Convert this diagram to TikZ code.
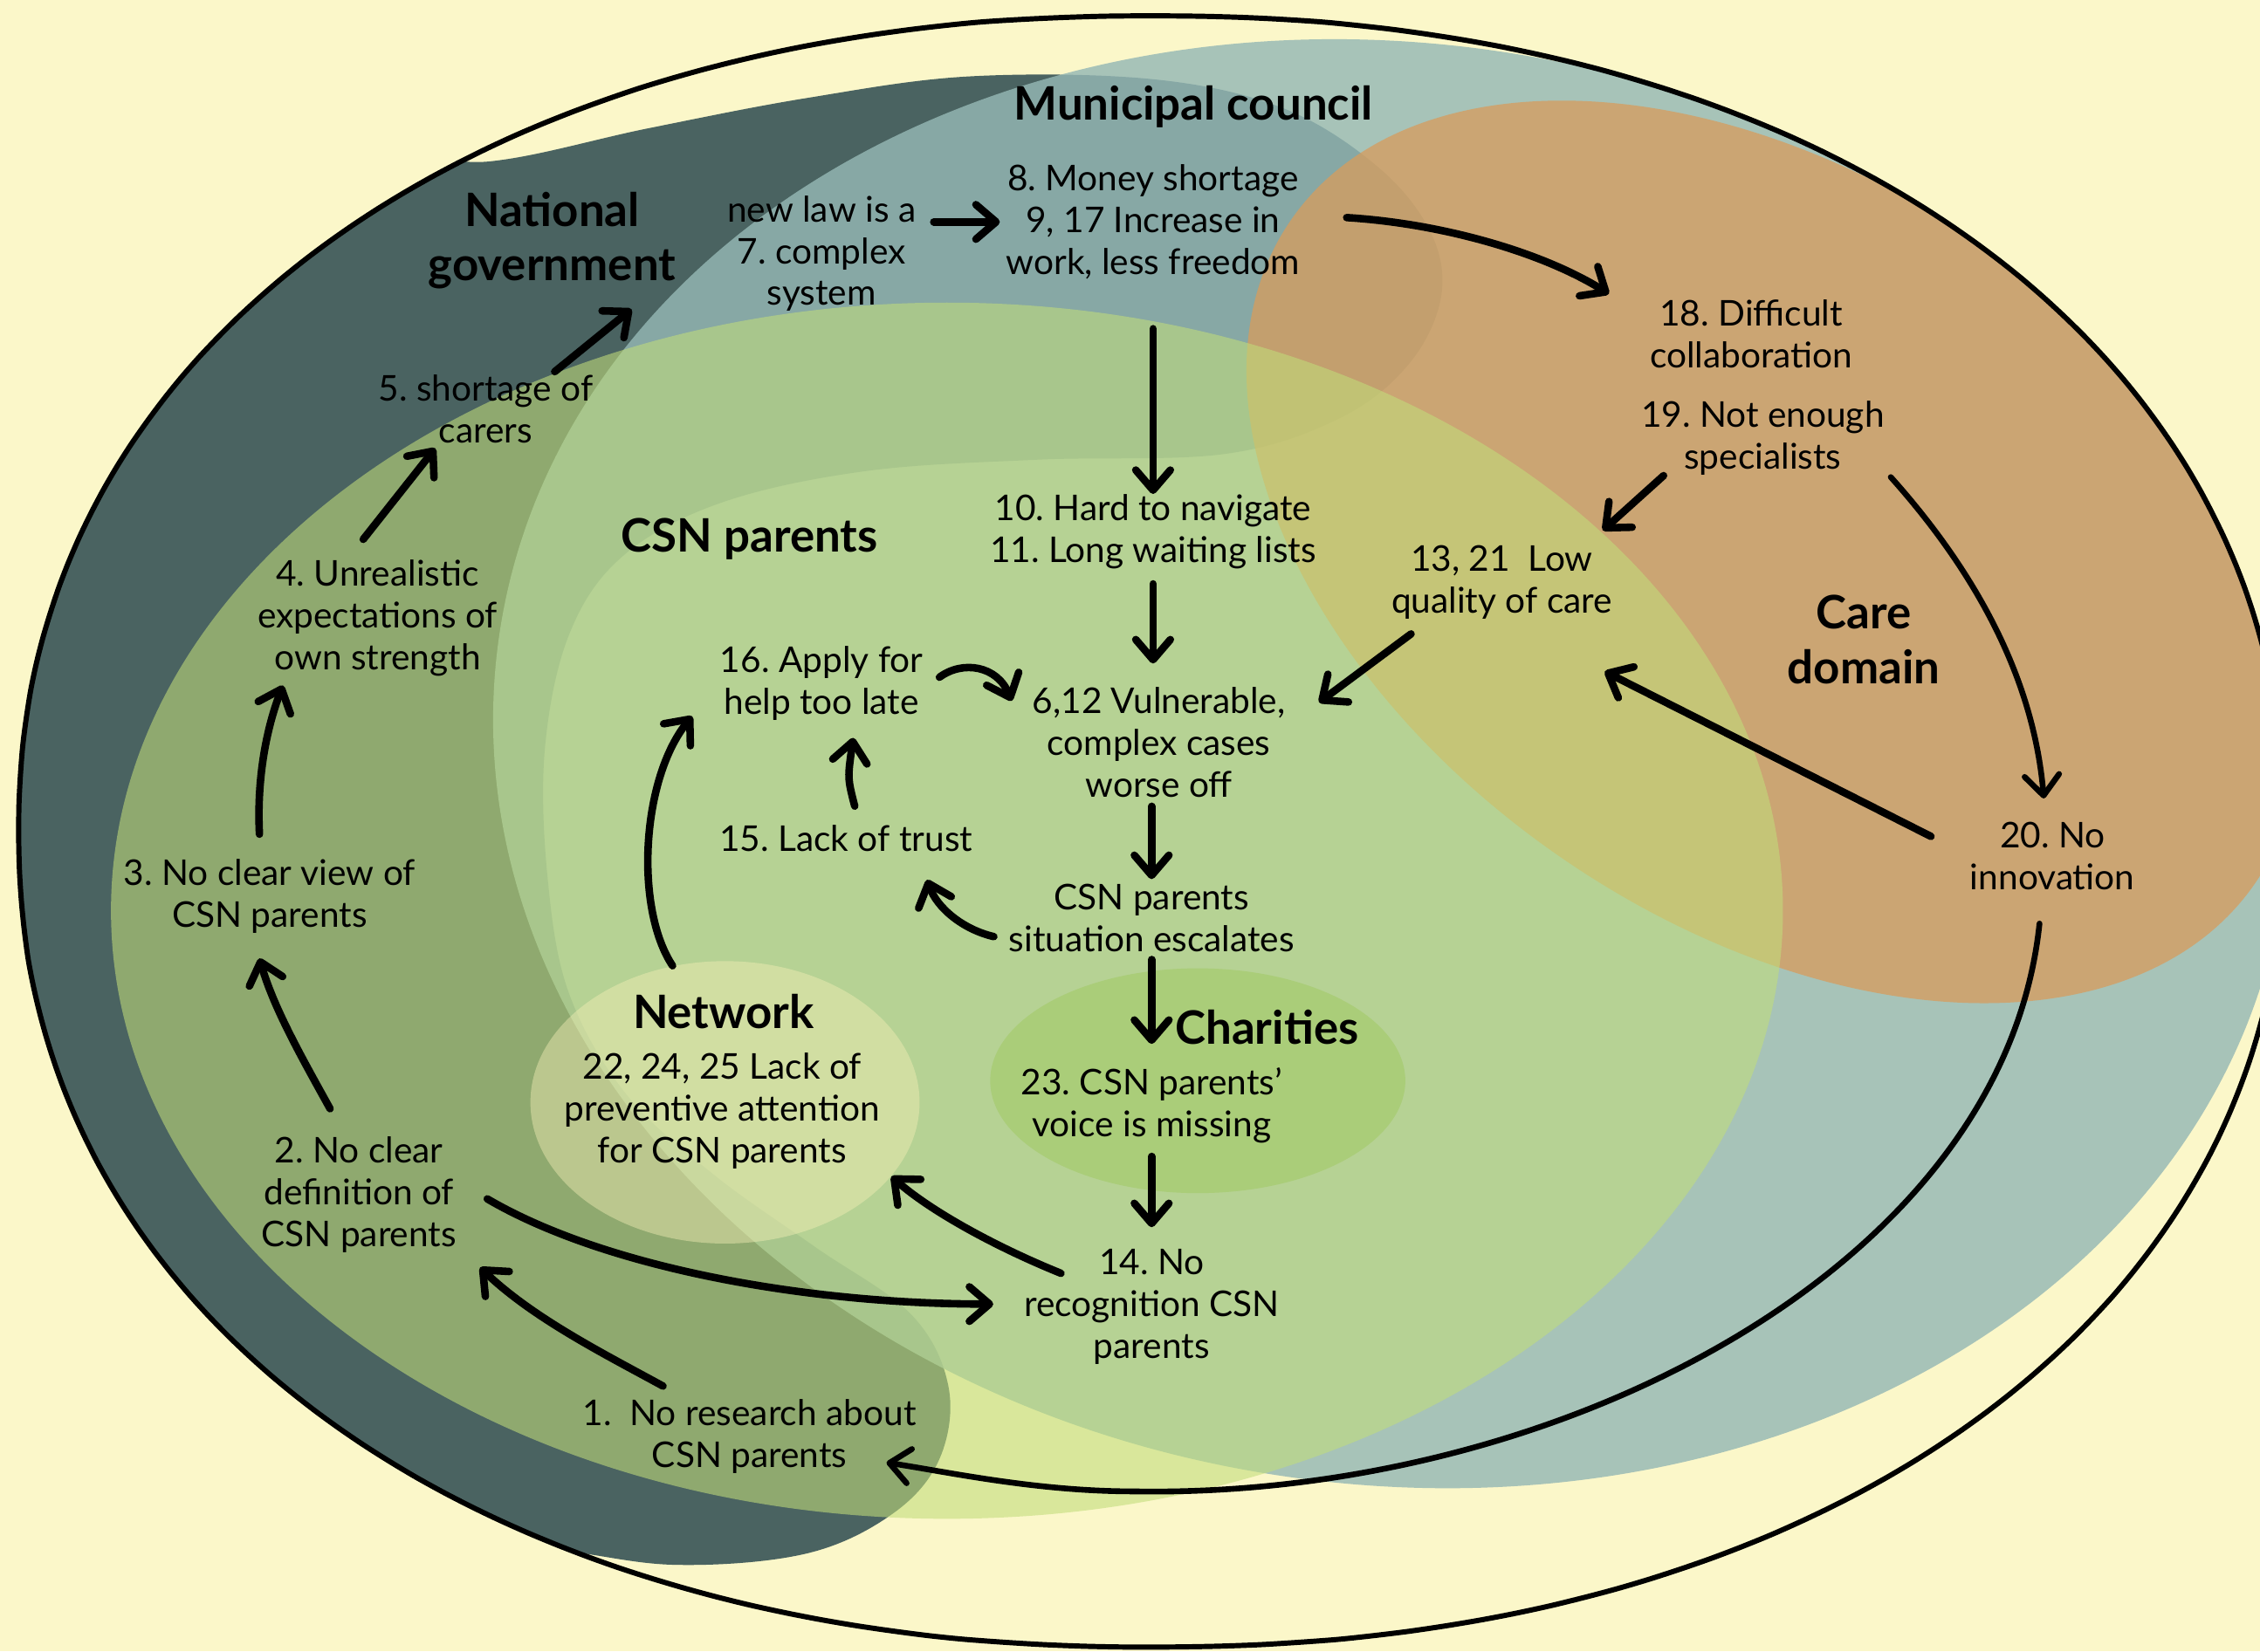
\documentclass[tikz,border=0pt]{standalone}
\usepackage{fontspec}
\setmainfont{Lato}
\usetikzlibrary{arrows.meta,calc,shapes.geometric}
\frenchspacing

\definecolor{paper}{RGB}{251,247,201}
\definecolor{govdark}{RGB}{74,99,97}
\definecolor{munteal}{RGB}{149,184,181}
\definecolor{careorange}{RGB}{216,156,92}
\definecolor{csngreen}{RGB}{193,221,122}
\definecolor{charitygreen}{RGB}{170,205,121}
\definecolor{netpale}{RGB}{245,239,182}

\tikzset{
 txt/.style={align=center, inner sep=0pt, font=\fontsize{12.3}{14.5}\selectfont},
 head/.style={align=center, inner sep=0pt, font=\fontsize{16}{19}\selectfont\bfseries},
 arr/.style={line width=2.6pt, line cap=round, -{Straight Barb[length=7pt,width=12pt,round]}},
 thinarr/.style={arr, line width=2pt},
}

\begin{document}
\begin{tikzpicture}[x=0.5pt, y=-0.5pt]
 \useasboundingbox (0,0) rectangle (1568,1146);
 \fill[paper] (0,0) rectangle (1568,1146);

 %Drawing the domains
 \begin{scope}
 \clip plot[domain=0.5:360.5, samples=200, smooth] ({799+786*sign(cos(\x))*abs(cos(\x))^0.93}, {577+566*sign(sin(\x))*abs(sin(\x))^0.93}) -- cycle;
 \fill[govdark] plot[smooth cycle, tension=0.6] coordinates {(560,68) (673,53) (800,55) (890,75) (955,115) (992,160) (1000,205) (978,252) (930,290) (850,315) (720,319) (600,327) (500,349) (432,386) (395,440) (378,520) (380,610) (395,690) (435,760) (495,815) (565,865) (632,912) (658,962) (652,1012) (620,1050) (560,1078) (470,1086) (383,1075) (250,1060) (100,950) (-20,700) (-20,400) (80,180) (250,110) (340,112) (450,89)};
 \fill[munteal, fill opacity=0.82, rotate around={-8:(965,530)}] (965,530) ellipse [x radius=625, y radius=500];
 \fill[careorange, fill opacity=0.75, rotate around={-34.5:(1230,383)}] (1230,383) ellipse [x radius=406, y radius=258];
 \fill[csngreen, fill opacity=0.58] (657,632) ellipse [x radius=580, y radius=422];
 \end{scope}
 \node[ellipse, fill=charitygreen, minimum width=144pt, minimum height=78pt, inner sep=0pt] (charities) at (831,750) {};
 \node[ellipse, fill=netpale, fill opacity=0.44, minimum width=135pt, minimum height=98pt, inner sep=0pt] (network) at (503,765) {};
 \draw[line width=1.8pt] plot[domain=0.5:360.5, samples=200, smooth] ({799+786*sign(cos(\x))*abs(cos(\x))^0.93}, {577+566*sign(sin(\x))*abs(sin(\x))^0.93}) -- cycle;

 %Domain labels
 \node[head] (govlabel) at (383,167) {National\\government};
 \node[head] (munilabel) at (828,74) {Municipal council};
 \node[head] (csnlabel) at (520,374) {CSN parents};
 \node[head] (carelabel) at (1293,444) {Care\\domain};
 \node[head] (netlabel) at (502,702) {Network};
 \node[head] (charlabel) at (879,713) {Charities};

 %Problems
 \node[txt] (law) at (570,176) {new law is a\\7. complex\\system};
 \node[txt] (money) at (800,154) {8. Money shortage\\9, 17 Increase in\\work, less freedom};
 \node[txt] (collab) at (1215,232) {18. Difficult\\collaboration};
 \node[txt] (spec) at (1223,304) {19. Not enough\\specialists};
 \node[txt] (carers) at (337,284) {5. shortage of\\carers};
 \node[txt] (strength) at (262,429) {4. Unrealistic\\expectations of\\own strength};
 \node[txt] (view) at (187,622) {3. No clear view of\\CSN parents};
 \node[txt] (define) at (249,829) {2. No clear\\definition of\\CSN parents};
 \node[txt] (research) at (520,997) {1.\ \ No research about\\CSN parents};
 \node[txt] (navigate) at (800,369) {10. Hard to navigate\\11. Long waiting lists};
 \node[txt] (quality) at (1042,404) {13, 21\ \ Low\\quality of care};
 \node[txt] (late) at (570,474) {16. Apply for\\help too late};
 \node[txt] (vulnerable) at (804,515) {6,12 Vulnerable,\\complex cases\\worse off};
 \node[txt] (trust) at (587,582) {15. Lack of trust};
 \node[txt] (escalate) at (799,637) {CSN parents\\situation escalates};
 \node[txt] (innov) at (1424,594) {20. No\\innovation};
 \node[txt] (prevent) at (501,771) {22, 24, 25 Lack of\\preventive attention\\for CSN parents};
 \node[txt] (voice) at (799,767) {23. CSN parents’\\voice is missing};
 \node[txt] (recog) at (799,907) {14. No\\recognition CSN\\parents};

 %Arrows down the middle
 \draw[arr, shorten <=6pt, shorten >=2pt] (law.east |- money.west) -- (money.west);
 \draw[arr] ($(money.east)+(32,-3)$) .. controls (1000,155) and (1070,175) .. ($(collab.north west)+(-28,-4)$);
 \draw[arr, shorten <=17pt] (money.south) -- (navigate.north);
 \draw[arr, shorten <=5pt, shorten >=8pt] (navigate.south) -- (navigate.south |- vulnerable.north);
 \draw[arr, shorten <=3pt, shorten >=1.5pt] (escalate.north |- vulnerable.south) -- (escalate.north);
 \draw[arr, shorten <=2.5pt, shorten >=8pt] (escalate.south) -- (voice.north);
 \draw[arr, shorten <=4.5pt, shorten >=7.5pt] (voice.south) -- (recog.north);

 %Care domain
 \draw[arr] ($(spec.south west)+(16,0)$) -- ($(quality.north east)+(-7,-10)$);
 \draw[arr] ($(quality.south)+(-63,10)$) -- ($(vulnerable.north east)+(23,11)$);
 \draw[thinarr] ($(spec.south east)+(4,1)$) .. controls (1360,385) and (1410,460) .. ($(innov.north)+(-6,-16)$);
 \draw[arr, shorten <=15pt, shorten >=40pt] (innov.west) -- (quality.south);
 \draw[thinarr] ($(innov.south)+(-9,23)$) .. controls (1390,880) and (1080,1040) .. (787,1035) .. controls (720,1035) and (660,1022) .. ($(research.east)+(-21,18)$);

 %CSN parents
 \draw[arr] ($(late.east)+(11,-4)$) .. controls (668,458) and (692,462) .. ($(vulnerable.north west)+(-14,10)$);
 \draw[arr] ($(trust.north)+(6,-13)$) .. controls (588,540) .. ($(late.south)+(22,12)$);
 \draw[arr] ($(escalate.west)+(-10,13)$) .. controls (668,645) and (650,630) .. ($(trust.south east)+(-32,19)$);
 \draw[arr] (network.111) .. controls (440,630) and (445,540) .. ($(late.south west)+(-19,-3)$);
 \draw[arr] ($(recog.north west)+(26,17)$) .. controls (690,865) and (645,840) .. (network.-24);

 %National government
 \draw[arr] ($(define.east)+(21,3)$) .. controls (420,880) and (560,905) .. ($(recog.west)+(-21,-2)$);
 \draw[arr] ($(research.north)+(-60,-9)$) .. controls (420,940) and (370,915) .. ($(define.south east)+(16,10)$);
 \draw[arr] ($(define.north)+(-20,-19)$) .. controls (210,735) and (190,700) .. ($(view.south)+(-7,17)$);
 \draw[arr] ($(view.north)+(-7,-17)$) .. controls (178,540) and (185,505) .. ($(strength.south west)+(18,6)$);
 \draw[arr] ($(strength.north)+(-10,-14)$) -- ($(carers.south)+(-35,3)$);
 \draw[arr] ($(carers.north east)+(-27,-2)$) -- ($(law.south west)+(-66,-2)$);
\end{tikzpicture}
\end{document}
